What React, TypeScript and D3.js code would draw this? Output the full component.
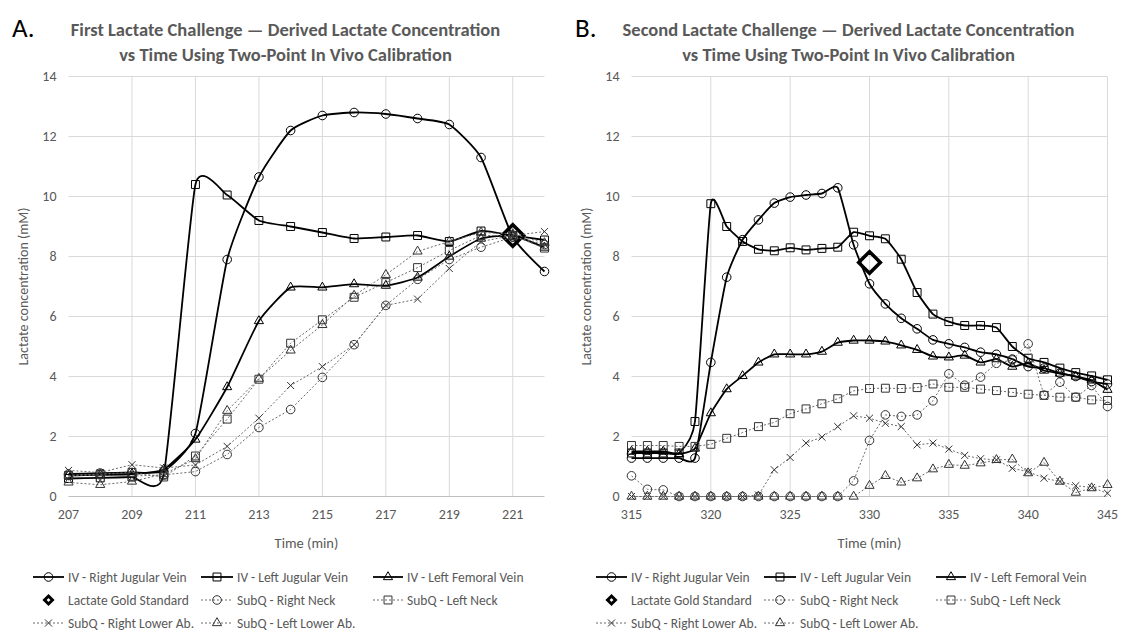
import React from "react";
import * as d3 from "d3";

// ---- data ----
const timeA = [207, 208, 209, 210, 211, 212, 213, 214, 215, 216, 217, 218, 219, 220, 221, 222];
const ivRightJugularA = [0.75, 0.78, 0.8, 0.85, 2.1, 7.9, 10.65, 12.2, 12.7, 12.8, 12.75, 12.6, 12.4, 11.3, 8.65, 7.5];
const ivLeftJugularA = [0.6, 0.62, 0.65, 0.72, 10.4, 10.05, 9.2, 9.0, 8.8, 8.6, 8.65, 8.7, 8.5, 8.85, 8.7, 8.55];
const ivLeftFemoralA = [0.7, 0.72, 0.75, 0.9, 1.9, 3.65, 5.85, 6.97, 6.97, 7.08, 7.03, 7.3, 8.0, 8.6, 8.7, 8.3];
const subRightNeckA = [0.7, 0.72, 0.68, 0.72, 0.83, 1.4, 2.3, 2.9, 3.97, 5.06, 6.37, 7.24, 7.9, 8.31, 8.65, 8.4];
const subLeftNeckA = [0.7, 0.75, 0.8, 0.65, 1.35, 2.58, 3.91, 5.11, 5.89, 6.64, 7.13, 7.63, 8.2, 8.7, 8.7, 8.28];
const subRightLowerA = [0.87, 0.8, 1.06, 0.95, 1.05, 1.67, 2.61, 3.7, 4.33, 5.06, 6.37, 6.58, 7.6, 8.5, 8.7, 8.83];
const subLeftLowerA = [0.47, 0.39, 0.5, 0.75, 1.25, 2.86, 3.93, 4.87, 5.72, 6.7, 7.39, 8.17, 8.5, 8.8, 8.75, 8.45];
const goldTimeA = [221];
const goldValueA = [8.7];

const timeB = [315, 316, 317, 318, 319, 320, 321, 322, 323, 324, 325, 326, 327, 328, 329, 330,
  331, 332, 333, 334, 335, 336, 337, 338, 339, 340, 341, 342, 343, 344, 345];
const ivRightJugularB = [1.28, 1.28, 1.28, 1.28, 1.28, 4.47, 7.31, 8.56, 9.22, 9.78, 9.98, 10.05, 10.1, 10.29, 8.39, 7.09,
  6.42, 5.94, 5.59, 5.22, 5.09, 4.97, 4.81, 4.74, 4.58, 4.33, 4.28, 4.11, 4.0, 3.83, 3.75];
const ivLeftJugularB = [1.45, 1.45, 1.45, 1.45, 2.5, 9.76, 9.0, 8.5, 8.24, 8.19, 8.29, 8.22, 8.27, 8.31, 8.81, 8.69,
  8.59, 7.91, 6.8, 6.08, 5.83, 5.7, 5.7, 5.63, 5.0, 4.61, 4.47, 4.28, 4.13, 4.02, 3.89];
const ivLeftFemoralB = [1.5, 1.5, 1.5, 1.42, 1.6, 2.78, 3.58, 4.02, 4.47, 4.74, 4.74, 4.74, 4.83, 5.13, 5.2, 5.2,
  5.17, 5.04, 4.89, 4.67, 4.64, 4.7, 4.47, 4.58, 4.33, 4.44, 4.2, 4.1, 4.0, 3.87, 3.56];
const subRightNeckB = [0.69, 0.24, 0.22, 0, 0, 0, 0, 0, 0, 0, 0, 0, 0, 0, 0.52, 1.87,
  2.72, 2.67, 2.72, 3.19, 4.09, 3.71, 3.98, 4.44, 4.55, 5.09, 3.38, 3.81, 3.31, 3.7, 3.0];
const subLeftNeckB = [1.7, 1.7, 1.7, 1.67, 1.67, 1.74, 1.94, 2.13, 2.33, 2.47, 2.76, 2.92, 3.09, 3.26, 3.52, 3.6,
  3.61, 3.6, 3.63, 3.75, 3.64, 3.64, 3.58, 3.53, 3.47, 3.41, 3.37, 3.31, 3.31, 3.22, 3.2];
const subRightLowerB = [0, 0, 0, 0, 0, 0, 0, 0, 0.05, 0.89, 1.3, 1.78, 1.98, 2.33, 2.69, 2.61,
  2.44, 2.33, 1.72, 1.78, 1.58, 1.37, 1.26, 1.22, 0.94, 0.83, 0.61, 0.5, 0.36, 0.3, 0.11];
const subLeftLowerB = [0, 0, 0, 0, 0, 0, 0, 0, 0, 0, 0, 0, 0, 0, 0, 0.36,
  0.69, 0.47, 0.61, 0.91, 1.06, 1.03, 1.11, 1.22, 1.24, 0.78, 1.13, 0.5, 0.13, 0.28, 0.39];
const goldTimeB = [330];
const goldValueB = [7.8];

const seriesLabels = [
  "IV - Right Jugular Vein", "IV - Left Jugular Vein", "IV - Left Femoral Vein",
  "Lactate Gold Standard", "SubQ - Right Neck", "SubQ - Left Neck",
  "SubQ - Right Lower Ab.", "SubQ - Left Lower Ab.",
];
const yTicks = [0, 2, 4, 6, 8, 10, 12, 14];
const xTicksA = [207, 209, 211, 213, 215, 217, 219, 221];
const xTicksB = [315, 320, 325, 330, 335, 340, 345];
const titleA = ["First Lactate Challenge \u2014 Derived Lactate Concentration", "vs Time Using Two-Point In Vivo Calibration"];
const titleB = ["Second Lactate Challenge \u2014 Derived Lactate Concentration", "vs Time Using Two-Point In Vivo Calibration"];

// ---- styling ----
const FONT = "Carlito, Calibri, Lato, sans-serif";
const GREY = "#595959";
const GRID = "#d9d9d9";
const DOT_LINE = "#6a6a6a";

type Shape = "circle" | "square" | "triangle" | "times" | "diamond";
const symbolType: Record<Shape, d3.SymbolType> = {
  circle: d3.symbolCircle,
  square: d3.symbolSquare2,
  triangle: d3.symbolTriangle2,
  times: d3.symbolTimes,
  diamond: d3.symbolDiamond2,
};
const symbolSize: Record<Shape, number> = { circle: 58, square: 80, triangle: 60, times: 34, diamond: 300 };

function Marker({ shape, x, y, stroke, sw = 1, size }: { shape: Shape; x: number; y: number; stroke: string; sw?: number; size?: number }) {
  const d = d3.symbol(symbolType[shape], size ?? symbolSize[shape])() as string;
  return <path d={d} transform={`translate(${x},${y})`} fill="none" stroke={stroke} strokeWidth={sw} />;
}

type Series = { label: string; kind: "iv" | "sub" | "gold"; shape: Shape; t: number[]; v: number[] };

function makeSeries(t: number[], vals: number[][], gt: number[], gv: number[]): Series[] {
  const shapes: Shape[] = ["circle", "square", "triangle", "diamond", "circle", "square", "times", "triangle"];
  return seriesLabels.map((label, i) => {
    if (i === 3) return { label, kind: "gold", shape: "diamond", t: gt, v: gv };
    const idx = i < 3 ? i : i - 1;
    return { label, kind: i < 3 ? "iv" : "sub", shape: shapes[i], t, v: vals[idx] };
  });
}

const seriesA = makeSeries(timeA, [ivRightJugularA, ivLeftJugularA, ivLeftFemoralA, subRightNeckA, subLeftNeckA, subRightLowerA, subLeftLowerA], goldTimeA, goldValueA);
const seriesB = makeSeries(timeB, [ivRightJugularB, ivLeftJugularB, ivLeftFemoralB, subRightNeckB, subLeftNeckB, subRightLowerB, subLeftLowerB], goldTimeB, goldValueB);

// legend entry placement (x0,x1 sample, text x, row)
const legendPos = [
  [33, 64, 68, 0], [201, 233, 237, 0], [373, 403, 407, 0],
  [33, 64, 68, 1], [201, 233, 237, 1], [373, 403, 407, 1],
  [33, 64, 68, 2], [201, 233, 237, 2],
];
const legendRows = [577, 600, 623];

function Panel({ dx, letter, title, series, xDomain, xTicks }: {
  dx: number; letter: string; title: string[]; series: Series[]; xDomain: [number, number]; xTicks: number[];
}) {
  const left = 68.5, right = 544.5, top = 76.5, bottom = 496.5;
  const x = d3.scaleLinear().domain(xDomain).range([left, right]);
  const y = d3.scaleLinear().domain([0, 14]).range([bottom, top]);

  const pathFor = (s: Series) => {
    const gen = d3.line<[number, number]>()
      .x((d) => x(d[0]))
      .y((d) => y(d[1]))
      .curve(s.kind === "iv" ? d3.curveCardinal.tension(0.5) : d3.curveLinear);
    return gen(s.t.map((t, i) => [t, s.v[i]] as [number, number])) as string;
  };

  const vGrid = xTicks.filter((t) => t !== xDomain[0]);
  const cx = (left + right) / 2;

  return (
    <g transform={`translate(${dx},0)`} fontFamily={FONT}>
      <text x={12} y={37} fontSize={27} fill="#000">{letter}</text>
      {title.map((line, i) => (
        <text key={i} x={cx - 21} y={35.5 + i * 25} textAnchor="middle" fontSize={18.5} fontWeight="bold" fill={GREY}>{line}</text>
      ))}

      {/* grid */}
      {yTicks.filter((t) => t > 0).map((t) => (
        <line key={"h" + t} x1={left} x2={right} y1={y(t)} y2={y(t)} stroke={GRID} strokeWidth={1} />
      ))}
      {vGrid.map((t) => (
        <line key={"v" + t} x1={x(t)} x2={x(t)} y1={top} y2={bottom} stroke={GRID} strokeWidth={1} />
      ))}
      <line x1={left} x2={right} y1={bottom} y2={bottom} stroke="#bfbfbf" strokeWidth={1} />

      {/* ticks */}
      {yTicks.map((t) => (
        <text key={"yl" + t} x={left - 12} y={y(t)} dy="0.35em" textAnchor="end" fontSize={14} fill={GREY}>{t}</text>
      ))}
      {xTicks.map((t) => (
        <text key={"xl" + t} x={x(t)} y={bottom + 22} textAnchor="middle" fontSize={14} fill={GREY}>{t}</text>
      ))}
      <text x={cx} y={548} textAnchor="middle" fontSize={14.5} fill={GREY}>Time (min)</text>
      <text transform={`translate(28,${(top + bottom) / 2}) rotate(-90)`} textAnchor="middle" fontSize={14} fill={GREY}>
        Lactate concentration (mM)
      </text>

      {/* series */}
      {series.map((s, si) => (
        <g key={si}>
          {s.kind !== "gold" && (
            <path d={pathFor(s)} fill="none"
              stroke={s.kind === "iv" ? "#000" : DOT_LINE}
              strokeWidth={s.kind === "iv" ? 1.8 : 1}
              strokeDasharray={s.kind === "sub" ? "2 2" : undefined} />
          )}
          {s.t.map((t, i) => (
            <Marker key={i} shape={s.shape} x={x(t)} y={y(s.v[i])}
              stroke={s.kind === "sub" ? "#333" : "#000"}
              sw={s.kind === "gold" ? 3.5 : 1} />
          ))}
        </g>
      ))}

      {/* legend */}
      {series.map((s, i) => {
        const [x0, x1, tx, row] = legendPos[i];
        const ly = legendRows[row];
        const mx = (x0 + x1) / 2;
        return (
          <g key={"lg" + i}>
            {s.kind !== "gold" && (
              <line x1={x0} x2={x1} y1={ly} y2={ly}
                stroke={s.kind === "iv" ? "#000" : DOT_LINE}
                strokeWidth={s.kind === "iv" ? 1.8 : 1}
                strokeDasharray={s.kind === "sub" ? "2 2" : undefined} />
            )}
            <Marker shape={s.shape} x={mx} y={ly} stroke={s.kind === "sub" ? "#333" : "#000"}
              sw={s.kind === "gold" ? 3 : 1} size={s.kind === "gold" ? 40 : undefined} />
            <text x={tx} y={ly} dy="0.35em" fontSize={13.5} fill={GREY}>{s.label}</text>
          </g>
        );
      })}
    </g>
  );
}

export default function App() {
  return (
    <svg width={1126} height={637} style={{ position: "absolute", left: 0, top: 0, background: "#fff" }}>
      <rect width={1126} height={637} fill="#fff" />
      <Panel dx={0} letter="A." title={titleA} series={seriesA} xDomain={[207, 222]} xTicks={xTicksA} />
      <Panel dx={563} letter="B." title={titleB} series={seriesB} xDomain={[315, 345]} xTicks={xTicksB} />
    </svg>
  );
}
